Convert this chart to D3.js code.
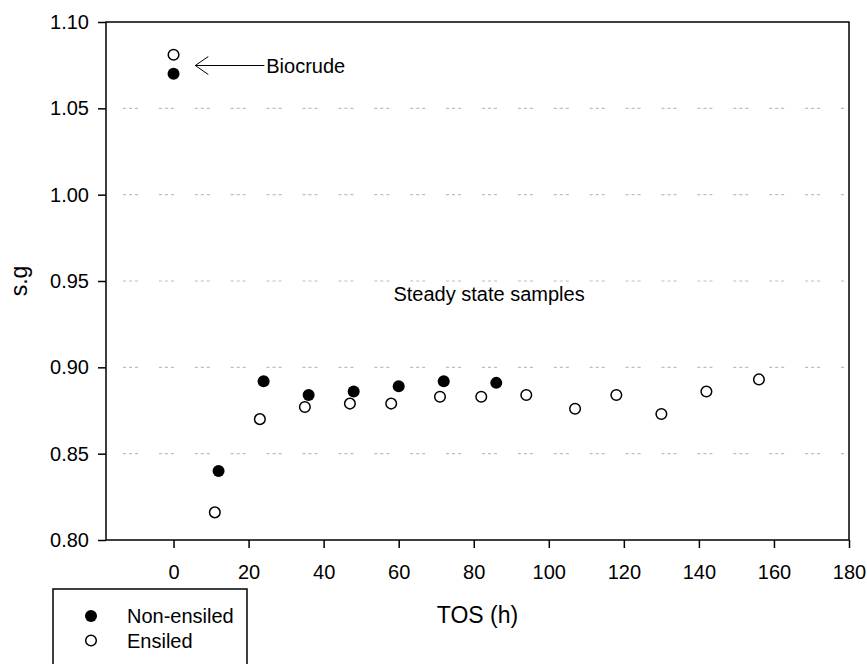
<!DOCTYPE html>
<html>
<head>
<meta charset="utf-8">
<script src="https://cdn.jsdelivr.net/npm/d3@7"></script>
<style>
    body { margin: 0; background: #fff; }
    svg { display: block; font-family: Arial, "Liberation Sans", sans-serif; }
</style>
</head>
<body>
<svg id="chart"></svg>
<script>
let margin = ({top: 22, right: 18, bottom: 124, left: 106});
let size = {width: 867, height: 664};
const innerWidth = size.width - margin.left - margin.right;
const innerHeight = size.height - margin.top - margin.bottom;

// non-ensiled (filled)
const nonEnsiledTos = [0, 12, 24, 36, 48, 60, 72, 86]
const nonEnsiledSg = [1.070, 0.840, 0.892, 0.884, 0.886, 0.889, 0.892, 0.891]

// ensiled (open)
const ensiledTos = [0, 11, 23, 35, 47, 58, 71, 82, 94, 107, 118, 130, 142, 156]
const ensiledSg = [1.081, 0.816, 0.870, 0.877, 0.879, 0.879, 0.883, 0.883, 0.884, 0.876, 0.884, 0.873, 0.886, 0.893]

const xTicks = [0, 20, 40, 60, 80, 100, 120, 140, 160, 180]
const yTicks = [0.80, 0.85, 0.90, 0.95, 1.00, 1.05, 1.10]
const gridValues = [0.85, 0.90, 0.95, 1.00, 1.05]

const legendLabels = ['Non-ensiled', 'Ensiled']

const svg = d3.select('#chart')
    .attr('width', size.width)
    .attr('height', size.height)

const xScale = d3.scaleLinear()
    .domain([-18, 180])
    .range([0, innerWidth])

const yScale = d3.scaleLinear()
    .domain([0.80, 1.10])
    .range([innerHeight, 0])

const g = svg.append('g')
    .attr('transform', `translate(${margin.left}, ${margin.top})`)

// dotted grid
g.selectAll('.grid')
    .data(gridValues)
    .join('line')
    .attr('class', 'grid')
    .attr('x1', 17)
    .attr('x2', innerWidth - 3)
    .attr('y1', d => yScale(d))
    .attr('y2', d => yScale(d))
    .attr('stroke', '#bdbdbd')
    .attr('stroke-width', 1.2)
    .attr('stroke-dasharray', '3,3,3,3,3,20.9')

// axes
const xAxis = d3.axisBottom(xScale)
    .tickValues(xTicks)
    .tickSizeInner(8)
    .tickSizeOuter(0)
    .tickPadding(17)
    .tickFormat(d3.format('d'))
const yAxis = d3.axisLeft(yScale)
    .tickValues(yTicks)
    .tickSizeInner(8)
    .tickSizeOuter(0)
    .tickPadding(9)
    .tickFormat(d3.format('.2f'))

const xAxisG = g.append('g')
    .attr('transform', `translate(0, ${innerHeight})`)
    .call(xAxis)
const yAxisG = g.append('g')
    .call(yAxis)

g.selectAll('.domain').remove()
g.selectAll('.tick line')
    .attr('stroke', '#000')
    .attr('stroke-width', 1.5)
g.selectAll('.tick text')
    .attr('fill', '#000')
    .attr('font-size', '20px')
    .attr('font-family', 'Arial, "Liberation Sans", sans-serif')

// frame
g.append('rect')
    .attr('x', 0)
    .attr('y', 0)
    .attr('width', innerWidth)
    .attr('height', innerHeight)
    .attr('fill', 'none')
    .attr('stroke', '#000')
    .attr('stroke-width', 1.5)

// points
const nonEnsiled = nonEnsiledTos.map((t, i) => ({tos: t, sg: nonEnsiledSg[i]}))
const ensiled = ensiledTos.map((t, i) => ({tos: t, sg: ensiledSg[i]}))

g.selectAll('.ens')
    .data(ensiled)
    .join('circle')
    .attr('class', 'ens')
    .attr('cx', d => xScale(d.tos))
    .attr('cy', d => yScale(d.sg))
    .attr('r', 5.3)
    .attr('fill', '#fff')
    .attr('stroke', '#000')
    .attr('stroke-width', 1.5)

g.selectAll('.non')
    .data(nonEnsiled)
    .join('circle')
    .attr('class', 'non')
    .attr('cx', d => xScale(d.tos))
    .attr('cy', d => yScale(d.sg))
    .attr('r', 6)
    .attr('fill', '#000')

// annotations
const arrowTip = {tos: 5.8, sg: 1.0748}
const arrowTail = {tos: 24.2, sg: 1.0748}
const ax = xScale(arrowTip.tos), ay = yScale(arrowTip.sg)
g.append('line')
    .attr('x1', ax)
    .attr('y1', ay)
    .attr('x2', xScale(arrowTail.tos))
    .attr('y2', ay)
    .attr('stroke', '#000')
    .attr('stroke-width', 1)
g.append('path')
    .attr('d', `M${ax + 13},${ay - 9} L${ax},${ay} L${ax + 13},${ay + 9}`)
    .attr('fill', 'none')
    .attr('stroke', '#000')
    .attr('stroke-width', 1)
g.append('text')
    .attr('x', xScale(24.7))
    .attr('y', ay)
    .attr('dy', '0.35em')
    .attr('font-size', '20px')
    .text('Biocrude')

g.append('text')
    .attr('x', xScale(58.6))
    .attr('y', yScale(0.9384))
    .attr('font-size', '20px')
    .text('Steady state samples')

// axis titles
svg.append('text')
    .attr('x', margin.left + innerWidth / 2)
    .attr('y', 623)
    .attr('text-anchor', 'middle')
    .attr('font-size', '23px')
    .text('TOS (h)')

svg.append('text')
    .attr('transform', `translate(27, ${margin.top + innerHeight / 2}) rotate(-90)`)
    .attr('text-anchor', 'middle')
    .attr('font-size', '23px')
    .text('s.g')

// legend
const legend = svg.append('g')
legend.append('rect')
    .attr('x', 53)
    .attr('y', 589)
    .attr('width', 194)
    .attr('height', 100)
    .attr('fill', '#fff')
    .attr('stroke', '#000')
    .attr('stroke-width', 1.5)

legendLabels.forEach((label, i) => {
    const cy = 616 + i * 24.5
    legend.append('circle')
        .attr('cx', 91)
        .attr('cy', cy)
        .attr('r', i === 0 ? 6 : 5.3)
        .attr('fill', i === 0 ? '#000' : '#fff')
        .attr('stroke', '#000')
        .attr('stroke-width', i === 0 ? 0 : 1.5)
    legend.append('text')
        .attr('x', 127)
        .attr('y', cy)
        .attr('dy', '0.35em')
        .attr('font-size', '20px')
        .text(label)
})
</script>
</body>
</html>
